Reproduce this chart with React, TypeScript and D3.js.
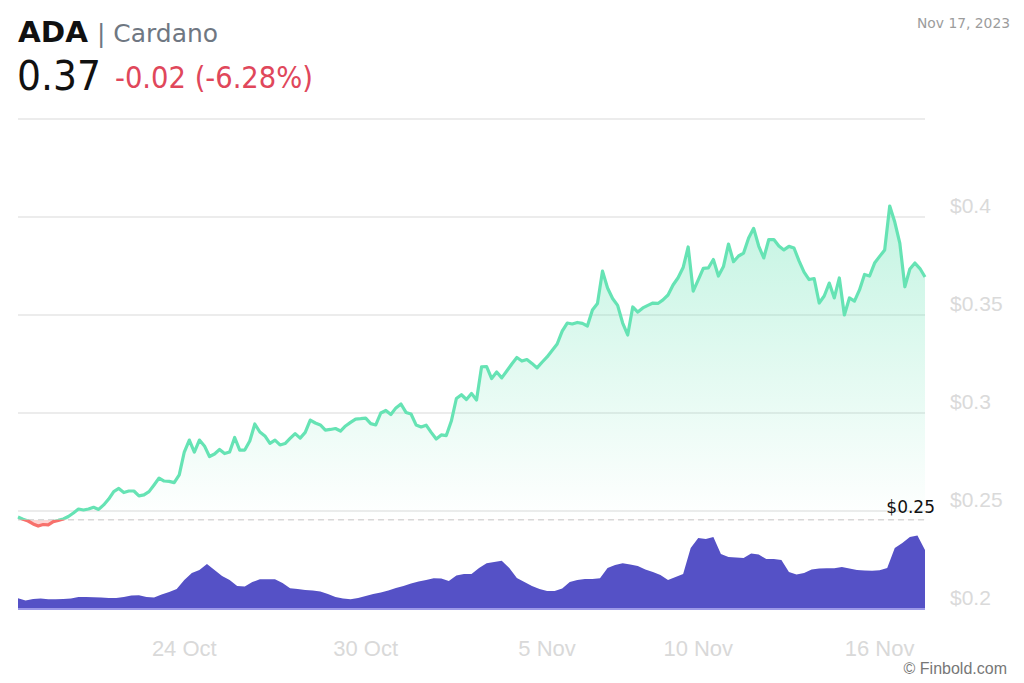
import * as React from 'react';

import {area, line, scaleLinear, scaleTime} from "d3";

const startTime = new Date(2023, 9, 18, 12);
const priceStepHours = 4;
const volumeStepHours = 6;

// ADA price, every 4 hours
const prices = [
    0.2469, 0.2458, 0.2449, 0.2434, 0.2423, 0.2431, 0.2429, 0.2446, 0.2452, 0.2459,
    0.2472, 0.2490, 0.2510, 0.2505, 0.2510, 0.2519, 0.2508, 0.2531, 0.2561, 0.2599,
    0.2615, 0.2594, 0.2602, 0.2602, 0.2577, 0.2582, 0.2599, 0.2633, 0.2668, 0.2653,
    0.2651, 0.2645, 0.2684, 0.2801, 0.2862, 0.2801, 0.2862, 0.2832, 0.2778, 0.2791,
    0.2814, 0.2793, 0.2801, 0.2875, 0.2811, 0.2811, 0.2857, 0.2944, 0.2903, 0.2883,
    0.2845, 0.2862, 0.2837, 0.2844, 0.2870, 0.2895, 0.2872, 0.2901, 0.2964, 0.2949,
    0.2939, 0.2913, 0.2916, 0.2921, 0.2908, 0.2934, 0.2952, 0.2969, 0.2971, 0.2974,
    0.2946, 0.2939, 0.3000, 0.3013, 0.2992, 0.3026, 0.3046, 0.3003, 0.2995, 0.2939,
    0.2929, 0.2938, 0.2901, 0.2867, 0.2888, 0.2885, 0.2959, 0.3074, 0.3093, 0.3069,
    0.3100, 0.3066, 0.3236, 0.3237, 0.3176, 0.3209, 0.3179, 0.3214, 0.3250, 0.3283,
    0.3265, 0.3273, 0.3253, 0.3230, 0.3259, 0.3286, 0.3319, 0.3352, 0.3418, 0.3459,
    0.3454, 0.3462, 0.3457, 0.3444, 0.3526, 0.3559, 0.3724, 0.3638, 0.3584, 0.3549,
    0.3459, 0.3398, 0.3541, 0.3515, 0.3536, 0.3549, 0.3561, 0.3559, 0.3577, 0.3602,
    0.3653, 0.3690, 0.3742, 0.3847, 0.3622, 0.3679, 0.3738, 0.3740, 0.3783, 0.3699,
    0.3747, 0.3862, 0.3772, 0.3801, 0.3816, 0.3893, 0.3942, 0.3852, 0.3791, 0.3885,
    0.3885, 0.3852, 0.3832, 0.3850, 0.3842, 0.3776, 0.3719, 0.3681, 0.3686, 0.3561,
    0.3597, 0.3663, 0.3587, 0.3689, 0.3500, 0.3587, 0.3571, 0.3628, 0.3707, 0.3699,
    0.3765, 0.3799, 0.3832, 0.4056, 0.3974, 0.3867, 0.3644, 0.3735, 0.3765, 0.3737,
    0.3694
];

// traded volume (M), every 6 hours
const volumes = [
    39, 30, 36, 38, 35, 35, 36, 38, 44, 44,
    43, 42, 40, 40, 44, 50, 51, 44, 42, 54,
    64, 76, 112, 140, 152, 176, 152, 128, 112, 88,
    86, 104, 115, 115, 115, 100, 79, 76, 72, 70,
    66, 56, 44, 38, 35, 40, 48, 56, 62, 70,
    80, 88, 98, 106, 112, 119, 118, 108, 130, 136,
    136, 160, 179, 184, 189, 160, 120, 104, 88, 76,
    68, 68, 78, 104, 112, 116, 116, 119, 160, 172,
    179, 174, 168, 154, 144, 132, 112, 124, 136, 240,
    280, 276, 284, 216, 204, 202, 200, 218, 214, 196,
    196, 192, 144, 134, 140, 154, 158, 159, 159, 164,
    158, 152, 150, 149, 151, 160, 240, 260, 284, 290,
    232
];

const basePrice = 0.2455;
const priceTicks = [0.2, 0.25, 0.3, 0.35, 0.4];
const gridPrices = [0.25, 0.3, 0.35, 0.4, 0.45];
const dateTicks = [new Date(2023, 9, 24), new Date(2023, 9, 30), new Date(2023, 10, 5), new Date(2023, 10, 10), new Date(2023, 10, 16)];
const dateLabels = ['24 Oct', '30 Oct', '5 Nov', '10 Nov', '16 Nov'];

const width = 1024;
const height = 683;
const left = 18;
const right = 925;
const green = '#66e3b4';
const red = '#f7716c';

const hourMs = 3600 * 1000;
const priceData = prices.map((p, i) => ({t: new Date(startTime.getTime() + i * priceStepHours * hourMs), p}));
const volumeData = volumes.map((v, i) => ({t: new Date(startTime.getTime() + i * volumeStepHours * hourMs), v}));
const endTime = priceData[priceData.length - 1].t;

const xScale = scaleTime().domain([startTime, endTime]).range([left, right]);
const yScale = scaleLinear().domain([0.2, 0.45]).range([609, 119]);
const volScale = scaleLinear().domain([0, 400]).range([608, 508]);
const yBase = yScale(basePrice);

const priceLine = line<{t: Date, p: number}>().x(d => xScale(d.t)).y(d => yScale(d.p));
const priceArea = area<{t: Date, p: number}>().x(d => xScale(d.t)).y0(yBase).y1(d => yScale(d.p));
const volArea = area<{t: Date, v: number}>().x(d => xScale(d.t)).y0(volScale(0)).y1(d => volScale(d.v));

const axisFont = '"Liberation Sans", Arial, sans-serif';
const headFont = '"DejaVu Sans", sans-serif';

export default function App() {
    return (
        <svg width={width} height={height} style={{position: 'absolute', left: 0, top: 0, background: '#fff'}}>
            <defs>
                <clipPath id="above"><rect x={0} y={0} width={width} height={yBase}/></clipPath>
                <clipPath id="below"><rect x={0} y={yBase} width={width} height={height - yBase}/></clipPath>
                <linearGradient id="greenFill" gradientUnits="userSpaceOnUse" x1={0} y1={yScale(0.41)} x2={0} y2={yBase}>
                    <stop offset="0" stopColor={green} stopOpacity={0.4}/>
                    <stop offset="1" stopColor={green} stopOpacity={0}/>
                </linearGradient>
            </defs>

            <text x={18} y={42} fontFamily={headFont} fontSize={28} fontWeight={700} fill="#111"
                  textLength={70} lengthAdjust="spacingAndGlyphs">ADA</text>
            <text x={97} y={42} fontFamily={headFont} fontSize={24} fill="#6f7782"
                  textLength={121} lengthAdjust="spacingAndGlyphs">| Cardano</text>
            <text x={17} y={90} fontFamily={headFont} fontSize={40} fill="#111"
                  textLength={84} lengthAdjust="spacingAndGlyphs">0.37</text>
            <text x={115} y={88} fontFamily={headFont} fontSize={30} fill="#e0475b"
                  textLength={198} lengthAdjust="spacingAndGlyphs">-0.02 (-6.28%)</text>
            <text x={1010} y={28} fontFamily={headFont} fontSize={14} fill="#9c9c9c" textAnchor="end"
                  textLength={93} lengthAdjust="spacingAndGlyphs">Nov 17, 2023</text>

            {gridPrices.map(p => (
                <line key={p} x1={left} x2={right} y1={yScale(p)} y2={yScale(p)} stroke="#e6e6e6" strokeWidth={1.5}/>
            ))}
            {priceTicks.map(p => (
                <text key={p} x={950} y={yScale(p) - 4} fontFamily={axisFont} fontSize={21} fill="#dadada">${p}</text>
            ))}

            <path d={priceArea(priceData) ?? ''} fill="url(#greenFill)" clipPath="url(#above)"/>
            <path d={priceArea(priceData) ?? ''} fill={red} fillOpacity={0.3} clipPath="url(#below)"/>
            <line x1={left} x2={right} y1={yBase} y2={yBase} stroke="#d8d8d8" strokeWidth={1.5} strokeDasharray="6 4"/>
            <text x={935} y={513} fontFamily={headFont} fontSize={17} fill="#111" textAnchor="end">$0.25</text>

            <path d={volArea(volumeData) ?? ''} fill="#5551c6"/>
            <line x1={left} x2={right} y1={609} y2={609} stroke="#9d99e8" strokeWidth={2}/>

            <path d={priceLine(priceData) ?? ''} fill="none" stroke={green} strokeWidth={3.2} strokeLinejoin="round" clipPath="url(#above)"/>
            <path d={priceLine(priceData) ?? ''} fill="none" stroke={red} strokeWidth={3.2} strokeLinejoin="round" clipPath="url(#below)"/>

            {dateTicks.map((d, i) => (
                <text key={i} x={xScale(d)} y={656} fontFamily={axisFont} fontSize={22} fill="#d9d9d9" textAnchor="middle">{dateLabels[i]}</text>
            ))}
            <text x={1007} y={674} fontFamily={axisFont} fontSize={16} fill="#777" textAnchor="end">© Finbold.com</text>
        </svg>
    );
}
